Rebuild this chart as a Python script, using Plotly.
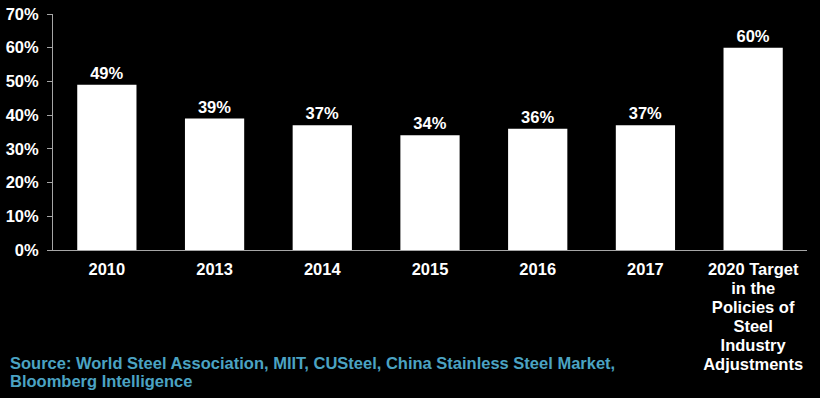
import plotly.graph_objects as go

categories = ["2010", "2013", "2014", "2015", "2016", "2017",
              "2020 Target<br>in the<br>Policies of<br>Steel<br>Industry<br>Adjustments"]
values = [49, 39, 37, 34, 36, 37, 60]
y_ticks = [0, 10, 20, 30, 40, 50, 60, 70]
y_tick_labels = [f"{v}%" for v in y_ticks]
source_lines = ["Source: World Steel Association, MIIT, CUSteel, China Stainless Steel Market,",
                "Bloomberg Intelligence"]

FONT = "Liberation Sans, Arial, sans-serif"
BIG = 16.5


def big(label):
    return "<br>".join(f'<span style="font-size:{BIG}px">{part}</span>'
                       for part in label.split("<br>"))


fig = go.Figure(go.Bar(
    x=categories,
    y=values,
    marker=dict(color="white", line=dict(width=0)),
    text=[f"{v}%" for v in values],
    textposition="outside",
    textfont=dict(color="white", size=BIG, family=FONT, weight="bold"),
    cliponaxis=False,
    width=0.55,
    hoverinfo="skip",
))

fig.update_layout(
    width=820, height=398,
    paper_bgcolor="black", plot_bgcolor="black",
    margin=dict(l=53, r=13, t=14, b=148, autoexpand=False),
    font=dict(family=FONT, color="white", size=14),
    showlegend=False,
    xaxis=dict(
        showgrid=False, showline=True, linecolor="#a6a6a6", linewidth=1,
        ticks="", tickangle=0, automargin=False, ticklabelstandoff=7,
        tickvals=categories, ticktext=[big(c) for c in categories],
        tickfont=dict(size=14.5, color="white", family=FONT, weight="bold"),
    ),
    yaxis=dict(
        range=[0, 70], tickvals=y_ticks, ticktext=y_tick_labels,
        showgrid=False, zeroline=False, showline=True, linecolor="#a6a6a6",
        linewidth=1, ticks="outside", ticklen=5, tickcolor="#a6a6a6",
        automargin=False, ticklabelstandoff=5, ticklabeloverflow="allow",
        tickfont=dict(size=BIG, color="white", family=FONT, weight="bold"),
    ),
)

for i, line in enumerate(source_lines):
    fig.add_annotation(
        text=line, xref="paper", yref="paper", x=-45 / 754, y=0,
        xanchor="left", yanchor="middle", yshift=-(113 + 18 * i),
        align="left", showarrow=False,
        font=dict(size=BIG, color="#4ba3c3", family=FONT, weight="bold"),
    )

fig.write_html(
    "out.html",
    config={"displayModeBar": False},
    post_script="document.body.style.margin='0';document.body.style.background='black';",
)
